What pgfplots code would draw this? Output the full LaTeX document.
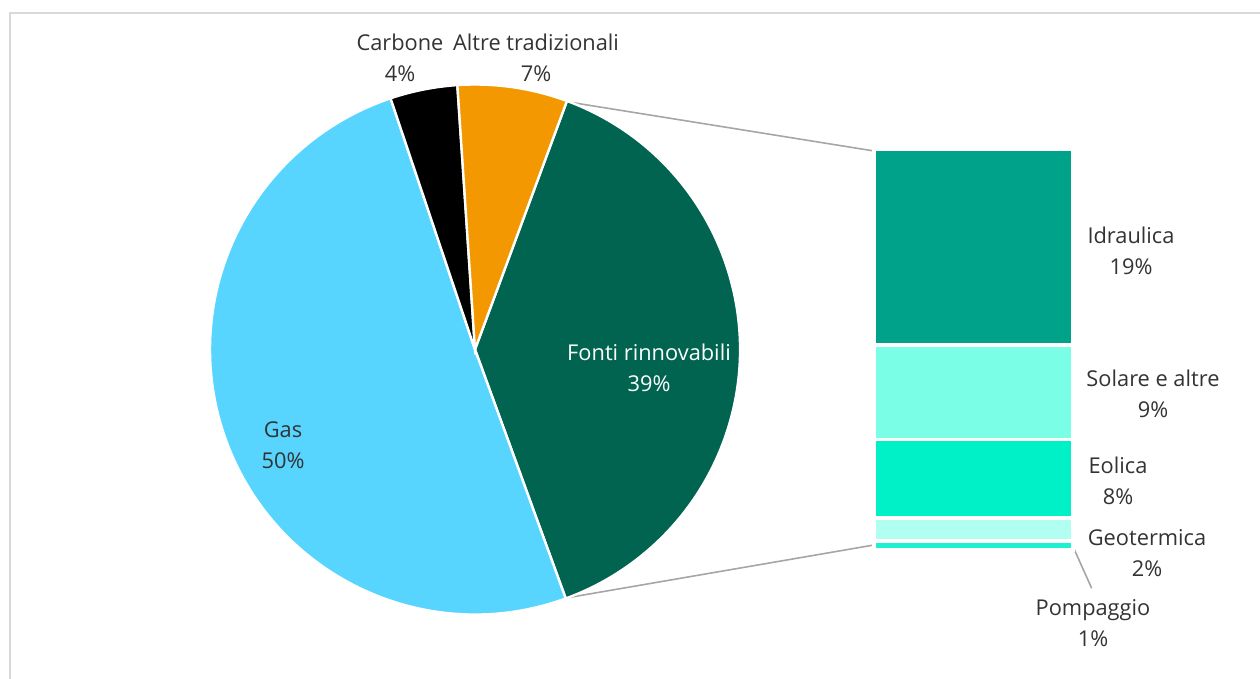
\documentclass[border=0pt]{standalone}
\usepackage{pgfplots}
\pgfplotsset{compat=1.18}
\usepackage{fontspec}
\setmainfont{Open Sans}
\definecolor{cGas}{HTML}{58D5FF}
\definecolor{cCarb}{HTML}{000000}
\definecolor{cAltre}{HTML}{F39800}
\definecolor{cFonti}{HTML}{006450}
\definecolor{cIdr}{HTML}{00A389}
\definecolor{cSol}{HTML}{7AFFE6}
\definecolor{cEol}{HTML}{00F0C8}
\definecolor{cGeo}{HTML}{B0FFF0}
\definecolor{cPom}{HTML}{1EF0D2}
\definecolor{txt}{HTML}{333333}
\definecolor{frame}{HTML}{D9D9D9}
\definecolor{conn}{HTML}{A6A6A6}
% pie shares (%)
\def\vFonti{38.8}
\def\vGas{50.4}
\def\vCarb{4.1}
\def\vAltre{6.7}
\begin{document}
\begin{tikzpicture}[lbl/.style={align=center, text=txt, font=\fontsize{10.9}{15.5}\selectfont}]
\pgfmathsetmacro\aA{69.7}
\pgfmathsetmacro\aB{\aA-\vFonti*3.6}
\pgfmathsetmacro\aC{\aB-\vGas*3.6}
\pgfmathsetmacro\aD{\aC-\vCarb*3.6}
\pgfmathsetmacro\aE{\aD-\vAltre*3.6}
\begin{axis}[scale only axis, width=630pt, height=339.5pt,
  xmin=0, xmax=1260, ymin=0, ymax=679, axis lines=none,
  clip=false, at={(0,0)}, anchor=south west]
  % frame
  \draw[frame, line width=1pt] (axis cs:9.5,-20) -- (axis cs:9.5,665.5) -- (axis cs:1290,665.5);
  % connector lines
  \draw[conn, line width=0.8pt] (axis cs:566.7,577.3) -- (axis cs:874,528);
  \draw[conn, line width=0.8pt] (axis cs:566,81) -- (axis cs:874,134);
  \draw[conn, line width=0.8pt] (axis cs:1073,132.3) -- (axis cs:1091.7,90.7);
  % pie
  \fill[cFonti, draw=white, line width=1.2pt] (axis cs:475,329.5) -- ++(\aA:132.5pt) arc[start angle=\aA, end angle=\aB, radius=132.5pt] -- cycle;
  \fill[cGas, draw=white, line width=1.2pt] (axis cs:475,329.5) -- ++(\aB:132.5pt) arc[start angle=\aB, end angle=\aC, radius=132.5pt] -- cycle;
  \fill[cCarb, draw=white, line width=1.2pt] (axis cs:475,329.5) -- ++(\aC:132.5pt) arc[start angle=\aC, end angle=\aD, radius=132.5pt] -- cycle;
  \fill[cAltre, draw=white, line width=1.2pt] (axis cs:475,329.5) -- ++(\aD:132.5pt) arc[start angle=\aD, end angle=\aE, radius=132.5pt] -- cycle;
  % labels
  \node[lbl] at (axis cs:400,621) {Carbone\\4\%};
  \node[lbl] at (axis cs:536,621) {Altre tradizionali\\7\%};
  \node[lbl] at (axis cs:283,233.5) {Gas\\50\%};
  \node[lbl, text=white] at (axis cs:649,311) {Fonti rinnovabili\\39\%};
  \node[lbl] at (axis cs:1131,428.5) {Idraulica\\19\%};
  \node[lbl] at (axis cs:1153,285) {Solare e altre\\9\%};
  \node[lbl] at (axis cs:1118,198) {Eolica\\8\%};
  \node[lbl] at (axis cs:1147,125.5) {Geotermica\\2\%};
  \node[lbl] at (axis cs:1093,55.5) {Pompaggio\\1\%};
\end{axis}
\begin{axis}[scale only axis, width=99.5pt, height=200.5pt,
  at={(437pt,64.5pt)}, anchor=south west,
  xmin=0, xmax=1, ymin=0, ymax=38.9, axis lines=none,
  ybar stacked, bar width=99.5pt, clip=false]
  \addplot[fill=cPom, draw=white, line width=1.8pt] coordinates {(0.5,0.9)};
  \addplot[fill=cGeo, draw=white, line width=1.8pt] coordinates {(0.5,2.2)};
  \addplot[fill=cEol, draw=white, line width=1.8pt] coordinates {(0.5,7.6)};
  \addplot[fill=cSol, draw=white, line width=1.8pt] coordinates {(0.5,9.2)};
  \addplot[fill=cIdr, draw=white, line width=1.8pt] coordinates {(0.5,19.0)};
\end{axis}
\pgfresetboundingbox
\path (0,0) rectangle (630pt,339.5pt);
\end{tikzpicture}
\end{document}
